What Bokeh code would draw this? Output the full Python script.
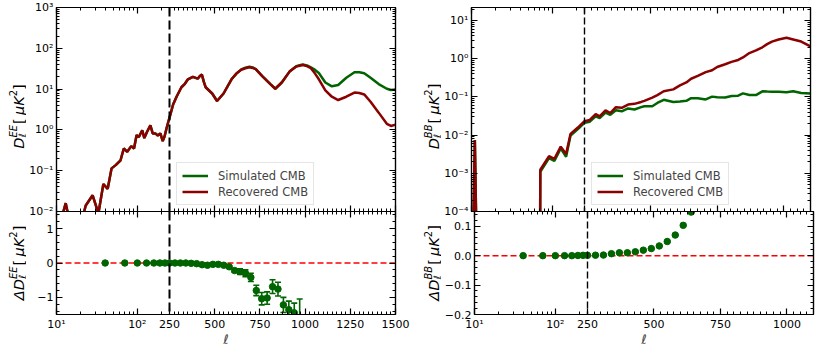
import math
from bokeh.plotting import figure
from bokeh.models import (ColumnDataSource, Range1d, FixedTicker, LinearAxis, LogAxis,
                          CustomJSTickFormatter, CustomJSTransform, Span, Legend,
                          LegendItem)
from bokeh.core.properties import value
from bokeh.transform import transform
from bokeh.layouts import row, column
from bokeh.embed import file_html
from bokeh.resources import INLINE

# ---------------- data ----------------
L_MIN, L_SPLIT = 10, 250
LMAX_EE, LMAX_BB = 1500, 1100

ell_ee = [10, 12, 13, 14, 17, 21, 23, 28, 33, 38, 43, 48, 54, 62, 68, 75, 84, 91, 98, 104,
          115, 122, 132, 145, 155, 167, 179, 193, 206, 217, 232, 255, 270, 289, 316, 335,
          352, 379, 406, 418, 429, 440, 450, 486, 513, 549, 593, 620, 647, 670, 692, 710,
          727, 763, 808, 835, 871, 915, 951, 970, 987, 1010, 1032, 1055, 1076, 1112, 1148,
          1183, 1228, 1273, 1300, 1327, 1362, 1407, 1452, 1475, 1500]
ee_rec = [0.004, 0.009, 0.016, 0.008, 0.004, 0.007, 0.014, 0.025, 0.009, 0.047, 0.036,
          0.114, 0.137, 0.18, 0.35, 0.29, 0.40, 0.35, 0.75, 0.66, 0.98, 0.63, 0.90, 1.29,
          0.82, 0.82, 0.73, 0.82, 0.53, 0.69, 1.18, 2.4, 4.2, 6.5, 11.1, 13.5, 17.4, 20.0,
          18.0, 21.0, 22.7, 15.0, 11.1, 7.8, 5.1, 7.8, 17.4, 24.0, 29.8, 32.5, 34.3, 33.0,
          30.8, 20.8, 13.3, 10.2, 14.5, 27.2, 35.6, 37.5, 39.0, 36.5, 32.5, 24.0, 17.4, 9.3,
          6.5, 5.4, 6.5, 8.2, 8.0, 7.4, 4.9, 2.65, 1.41, 1.25, 1.35]
ee_sim = [0.004, 0.009, 0.016, 0.008, 0.004, 0.007, 0.014, 0.025, 0.009, 0.047, 0.036,
          0.114, 0.137, 0.18, 0.35, 0.29, 0.40, 0.35, 0.75, 0.66, 0.98, 0.63, 0.90, 1.29,
          0.82, 0.82, 0.73, 0.82, 0.53, 0.69, 1.18, 2.4, 4.2, 6.5, 11.1, 13.5, 17.4, 20.0,
          18.0, 21.0, 22.7, 15.0, 11.1, 7.8, 5.1, 7.8, 17.4, 24.0, 30.5, 33.5, 35.5, 34.0,
          30.8, 20.8, 13.3, 10.2, 14.5, 27.2, 36.5, 38.5, 40.0, 38.0, 34.0, 29.5, 24.8, 14.5,
          11.7, 12.6, 19.0, 25.8, 26.0, 24.5, 19.0, 13.3, 10.2, 9.5, 9.8]

ell_bb = [10, 11, 12, 70, 71, 91, 106, 127, 148, 168, 207, 250, 270, 292, 307, 329, 347,
          368, 390, 414, 438, 463, 475, 505, 524, 548, 584, 609, 633, 651, 676, 706, 730,
          749, 779, 803, 828, 846, 870, 895, 919, 937, 955, 980, 1010, 1035, 1065, 1100]
bb_rec = [1e-7, 0.0075, 1e-7, 1e-7, 0.00124, 0.0028, 0.0024, 0.005, 0.0032, 0.0108, 0.0158,
          0.0233, 0.025, 0.0355, 0.031, 0.0447, 0.038, 0.054, 0.052, 0.063, 0.066, 0.074,
          0.079, 0.096, 0.112, 0.141, 0.158, 0.20, 0.24, 0.30, 0.355, 0.447, 0.50, 0.61,
          0.72, 0.83, 0.93, 1.08, 1.41, 1.65, 2.0, 2.41, 2.82, 3.2, 3.55, 3.2, 2.82, 2.1]
bb_sim = [1e-7, 0.0075, 1e-7, 1e-7, 0.0011, 0.0025, 0.0021, 0.0045, 0.0027, 0.0098, 0.0145,
          0.021, 0.0225, 0.031, 0.028, 0.039, 0.034, 0.0447, 0.042, 0.050, 0.047, 0.054,
          0.057, 0.057, 0.0695, 0.084, 0.074, 0.076, 0.079, 0.093, 0.093, 0.086, 0.102,
          0.098, 0.097, 0.106, 0.108, 0.124, 0.112, 0.112, 0.140, 0.138, 0.137, 0.137,
          0.133, 0.141, 0.127, 0.124]

ell_bin_ee = [40, 70, 100, 130, 160, 190, 220, 250, 280, 310, 340, 370, 400, 430, 460, 490,
              520, 550, 580, 610, 640, 670, 700, 730, 760, 790, 820, 850, 880, 910, 940, 970]
dee = [0.0, 0.0, 0.0, 0.0, 0.0, 0.0, 0.0, 0.0, 0.0, 0.0, 0.0, -0.01, -0.02, -0.05, -0.065,
       -0.04, -0.04, -0.065, -0.11, -0.22, -0.25, -0.30, -0.42, -0.80, -1.04, -1.02, -0.69,
       -0.76, -1.22, -1.36, -1.45, -1.60]
dee_err = [0.005, 0.005, 0.005, 0.005, 0.005, 0.005, 0.005, 0.005, 0.008, 0.008, 0.01, 0.01,
           0.012, 0.015, 0.015, 0.02, 0.02, 0.025, 0.03, 0.05, 0.08, 0.10, 0.12, 0.15, 0.18,
           0.18, 0.20, 0.20, 0.22, 0.25, 0.28, 0.55]

ell_bin_bb = [40, 70, 100, 130, 160, 190, 220, 250, 280, 310, 340, 370, 400, 430, 460, 490,
              520, 550, 580, 610, 640]
dbb = [0.0, 0.0, 0.0, 0.0, 0.0, 0.0005, 0.001, 0.001, 0.0015, 0.002, 0.0066, 0.0098, 0.0098,
       0.013, 0.0186, 0.024, 0.033, 0.048, 0.070, 0.103, 0.148]

x_major_vals = [10, 100, 250, 500, 750, 1000, 1250, 1500]
x_minor_log = [20, 30, 40, 50, 60, 70, 80, 90, 200]

# ---------------- style ----------------
GREEN = "#006400"
RED = "#8b0000"
FONT = "DejaVu Sans"
TICK_FS = "11px"
FW = 339
FH_TOP, FH_BOT = 204, 103
B_TOP, B_BOT, B_JOIN = 7, 29, 7
LW = 26            # width of the strip that holds the rotated y label
BL, BR_L, BR_R = 30, 20, 4
X_YLABEL = 18      # baseline of the rotated label inside the strip (px)


def hyb(l, lmax):
    a, b = math.log10(L_SPLIT), math.log10(L_MIN)
    if l <= L_SPLIT:
        return math.log10(l)
    return a + (l - L_SPLIT) * 2 * (a - b) / (lmax - L_SPLIT)


JS_HYB = r"""
const a = Math.log10(split), b = Math.log10(lmin);
const k = 2*(a-b)/(lmax-split);
function f(l) { return l <= split ? Math.log10(l) : a + (l-split)*k; }
"""
SUPJS = r"""
const SUP = {"0":"\u2070","1":"\u00b9","2":"\u00b2","3":"\u00b3","4":"\u2074","5":"\u2075",
             "6":"\u2076","7":"\u2077","8":"\u2078","9":"\u2079","-":"\u207b"};
function sup(n) { return String(n).split("").map(c => SUP[c]).join(""); }
"""


def hyb_transform(lmax):
    args = dict(split=L_SPLIT, lmin=L_MIN, lmax=lmax)
    return CustomJSTransform(
        args=args,
        func=JS_HYB + "return f(x);",
        v_func=JS_HYB + "const out = new Float64Array(xs.length);"
                        "for (let i = 0; i < xs.length; i++) out[i] = f(xs[i]); return out;")


def x_formatter(lmax):
    return CustomJSTickFormatter(
        args=dict(split=L_SPLIT, lmin=L_MIN, lmax=lmax),
        code=SUPJS + r"""
const a = Math.log10(split), b = Math.log10(lmin);
const k = 2*(a-b)/(lmax-split);
if (tick < a - 1e-6) return "10" + sup(Math.round(tick));
return String(Math.round(split + (tick - a)/k));
""")


def log_formatter():
    return CustomJSTickFormatter(code=SUPJS + r"""
return "10" + sup(Math.round(Math.log10(tick)));
""")


def lin_formatter(digits):
    return CustomJSTickFormatter(args=dict(d=digits), code=r"""
const s = d > 0 ? tick.toFixed(d) : String(Math.round(tick));
return s.replace("-", "\u2212");
""")


def style_axis(ax, ticker, fmt, show):
    ax.ticker = ticker
    ax.formatter = fmt if show else CustomJSTickFormatter(code="return '';")
    ax.major_tick_in = 6
    ax.major_tick_out = 0
    ax.minor_tick_in = 3
    ax.minor_tick_out = 0
    ax.axis_line_color = "black"
    ax.axis_line_width = 1.2
    ax.major_tick_line_width = 1.2
    ax.minor_tick_line_width = 1.0
    ax.major_tick_line_color = "black"
    ax.minor_tick_line_color = "black"
    ax.major_label_text_font = FONT
    ax.major_label_text_color = "black"
    if show:
        ax.major_label_text_font_size = TICK_FS
        ax.major_label_standoff = 3
    else:
        ax.major_label_text_font_size = "0px"
        ax.major_label_standoff = 0
    ax.axis_label = None


def make_panel(lmax, top, y_log, y_lo, y_hi, y_major, y_minor, y_fmt, left_fig, x_minor_step):
    fh = FH_TOP if top else FH_BOT
    p = figure(frame_width=FW, frame_height=fh,
               x_range=Range1d(hyb(L_MIN, lmax), hyb(lmax, lmax)),
               y_range=Range1d(y_lo, y_hi),
               y_axis_type="log" if y_log else "linear",
               output_backend="svg", toolbar_location=None,
               min_border_left=BL, min_border_right=BR_L if left_fig else BR_R,
               min_border_top=B_TOP if top else 0,
               min_border_bottom=B_JOIN if top else B_BOT,
               background_fill_color="white",
               border_fill_color="white", border_fill_alpha=1.0 if top else 0.0,
               outline_line_color="black", outline_line_width=1.2)
    p.grid.visible = False
    majors = [v for v in x_major_vals if v <= lmax]
    minors = x_minor_log + [v for v in range(L_SPLIT + x_minor_step, lmax + 1, x_minor_step)
                            if v not in majors]
    xt = FixedTicker(ticks=[hyb(v, lmax) for v in majors],
                     minor_ticks=[hyb(v, lmax) for v in minors])
    yt = FixedTicker(ticks=y_major, minor_ticks=y_minor)
    style_axis(p.below[0], xt, x_formatter(lmax), show=not top)
    style_axis(p.left[0], yt, y_fmt, show=True)
    ax_top = LinearAxis()
    style_axis(ax_top, xt, None, show=False)
    p.add_layout(ax_top, "above")
    ax_right = LogAxis() if y_log else LinearAxis()
    style_axis(ax_right, yt, None, show=False)
    p.add_layout(ax_right, "right")
    return p


W_EM = {"D": 0.77, "Δ": 0.70, "ℓ": 0.42, "E": 0.632, "B": 0.686, " ": 0.318, "[": 0.30,
        "]": 0.39, "μ": 0.636, "K": 0.656, "2": 0.636}


def label_strip(height, center_y, delta, pol):
    """Narrow plot (pixel coordinates) that holds the rotated, math-like y label."""
    s = figure(frame_width=LW, frame_height=height, x_range=Range1d(0, LW),
               y_range=Range1d(0, height), x_axis_location=None, y_axis_location=None,
               output_backend="svg", toolbar_location=None, min_border=0,
               min_border_left=0, min_border_right=0, min_border_top=0, min_border_bottom=0,
               outline_line_color=None, background_fill_color="white",
               border_fill_color="white")
    s.grid.visible = False
    fs, ss = 14.5, 10

    def w(txt, size):
        return sum(W_EM[c] for c in txt) * size
    pieces = []
    if delta:
        pieces.append(("Δ", fs, 0, True, w("Δ", fs)))
    pieces.append(("D", fs, 0, True, w("D", fs)))
    pieces.append(("ℓ", ss, 3.5, True, 0))
    pieces.append((pol, ss, -5.5, True, max(w(pol, ss), w("ℓ", ss)) + 1))
    pieces.append((" [", fs, 0, False, w(" [", fs)))
    pieces.append(("μK", fs, 0, True, w("μK", fs)))
    pieces.append(("2", ss, -5.5, False, w("2", ss)))
    pieces.append(("]", fs, 0, False, w("]", fs)))
    total = sum(pc[4] for pc in pieces)
    pos = center_y - total / 2
    for txt, size, shift, ital, adv in pieces:
        s.text(x=[X_YLABEL + shift], y=[pos], text=[txt], angle=math.pi / 2,
               text_font=value(FONT), text_font_size=f"{size}px",
               text_font_style="italic" if ital else "normal",
               text_align="left", text_baseline="alphabetic", text_color="black")
        pos += adv
    return s


def log_ticks(e_lo, e_hi):
    major = [10.0 ** e if e < 0 else 10 ** e for e in range(e_lo, e_hi + 1)]
    minor = [m * 10.0 ** e for e in range(e_lo, e_hi + 1) for m in range(2, 10)]
    return major, minor


def build_column(lmax, ell, sim, rec, ell_bin, dres, dres_err, y_top, y_bot, res_major,
                 res_minor, res_digits, pol, left_fig, span_w, span_dash, x_minor_step):
    tr = hyb_transform(lmax)
    e_lo = round(math.log10(y_top[0]))
    major, minor = log_ticks(e_lo, 3)
    top = make_panel(lmax, True, True, y_top[0], y_top[1], major, minor,
                     log_formatter(), left_fig, x_minor_step)
    src = ColumnDataSource(dict(ell=ell, sim=sim, rec=rec))
    g = top.line(x=transform("ell", tr), y="sim", source=src, line_color=GREEN, line_width=2.5)
    r = top.line(x=transform("ell", tr), y="rec", source=src, line_color=RED, line_width=2.5)
    top.add_layout(Span(location=hyb(L_SPLIT, lmax), dimension="height", line_color="black",
                        line_width=span_w, line_dash=span_dash))
    leg = Legend(items=[LegendItem(label="Simulated CMB", renderers=[g]),
                        LegendItem(label="Recovered CMB", renderers=[r])],
                 location=(120, 6), label_text_font=FONT, label_text_font_size="11.5px",
                 glyph_width=26, glyph_height=15, spacing=1, padding=5, margin=0,
                 label_standoff=10, label_height=15,
                 border_line_color="#cccccc", border_line_width=1,
                 background_fill_color="white", background_fill_alpha=0.8)
    top.add_layout(leg)
    strip_top = label_strip(B_TOP + FH_TOP + B_JOIN, B_JOIN + FH_TOP / 2, False, pol)

    bot = make_panel(lmax, False, False, y_bot[0], y_bot[1], res_major, res_minor,
                     lin_formatter(res_digits), left_fig, x_minor_step)
    bot.add_layout(Span(location=0, dimension="width", line_color="red", line_width=1.5,
                        line_dash="6 3", level="underlay"))
    bot.add_layout(Span(location=hyb(L_SPLIT, lmax), dimension="height", line_color="black",
                        line_width=span_w, line_dash=span_dash))
    lo = [v - e for v, e in zip(dres, dres_err)]
    hi = [v + e for v, e in zip(dres, dres_err)]
    rsrc = ColumnDataSource(dict(ell=ell_bin, val=dres, lo=lo, hi=hi))
    bot.segment(x0=transform("ell", tr), y0="lo", x1=transform("ell", tr), y1="hi",
                source=rsrc, line_color=GREEN, line_width=1.6)
    bot.scatter(x=transform("ell", tr), y="lo", source=rsrc, marker="dash", size=6,
                line_color=GREEN, line_width=1.6)
    bot.scatter(x=transform("ell", tr), y="hi", source=rsrc, marker="dash", size=6,
                line_color=GREEN, line_width=1.6)
    bot.scatter(x=transform("ell", tr), y="val", source=rsrc, marker="circle", size=6.5,
                fill_color=GREEN, line_color=GREEN)
    xa = bot.below[0]
    xa.axis_label = "ℓ"
    xa.axis_label_text_font = FONT
    xa.axis_label_text_font_size = "13px"
    xa.axis_label_text_font_style = "italic"
    xa.axis_label_standoff = -2
    strip_bot = label_strip(FH_BOT + B_BOT, B_BOT + FH_BOT / 2, True, pol)

    top_row = row(strip_top, top)
    bot_row = row(strip_bot, bot)
    bot_row.styles = {"margin-top": f"-{B_JOIN}px"}
    return column(top_row, bot_row)


left = build_column(LMAX_EE, ell_ee, ee_sim, ee_rec, ell_bin_ee, dee, dee_err,
                    (1e-2, 1e3), (-1.5, 1.5), [-1, 0, 1],
                    [-1.4, -1.2, -0.8, -0.6, -0.4, -0.2, 0.2, 0.4, 0.6, 0.8, 1.2, 1.4],
                    0, "EE", True, 2.0, "9 4", 25)
right = build_column(LMAX_BB, ell_bb, bb_sim, bb_rec, ell_bin_bb, dbb, [0.0] * len(dbb),
                     (1e-4, 22), (-0.2, 0.15), [-0.2, -0.1, 0.0, 0.1],
                     [-0.18, -0.16, -0.14, -0.12, -0.08, -0.06, -0.04, -0.02, 0.02, 0.04,
                      0.06, 0.08, 0.12, 0.14],
                     1, "BB", False, 1.4, "7 3", 25)

layout = row(left, right)
open("out.html", "w", encoding="utf-8").write(file_html(layout, INLINE))
